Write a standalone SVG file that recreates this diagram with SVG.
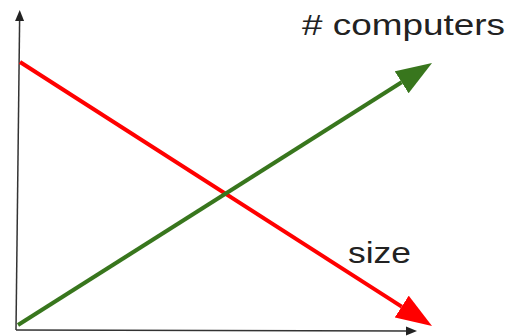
<svg xmlns="http://www.w3.org/2000/svg" width="510" height="336" viewBox="0 0 510 336">
<style>
.lbl{font-family:"Liberation Sans",Arial,sans-serif;fill:#222;}
.axis{stroke:#333;stroke-width:1.5;fill:none;}
</style>
<defs>
<marker id="axhead" markerUnits="userSpaceOnUse" viewBox="0 -5 11 10" refX="0" refY="0" markerWidth="11" markerHeight="10" orient="auto">
<path d="M0,-4.5 L11,0 L0,4.5 z" fill="#222"/>
</marker>
<marker id="ghead" markerUnits="userSpaceOnUse" viewBox="0 -13 36 26" refX="0" refY="0" markerWidth="36" markerHeight="26" orient="auto">
<path d="M0,-13 L36,0 L0,13 z" fill="#38761d"/>
</marker>
<marker id="rhead" markerUnits="userSpaceOnUse" viewBox="0 -13 36 26" refX="0" refY="0" markerWidth="36" markerHeight="26" orient="auto">
<path d="M0,-13 L36,0 L0,13 z" fill="#ff0000"/>
</marker>
</defs>
<rect width="510" height="336" fill="#fff"/>
<g id="connectors">
<line class="axis" x1="16" y1="330" x2="19.6" y2="21" marker-end="url(#axhead)"/>
<line class="axis" x1="16" y1="330" x2="406" y2="331" marker-end="url(#axhead)"/>
<line x1="20" y1="62" x2="401.7" y2="306.6" stroke="#ff0000" stroke-width="4" marker-end="url(#rhead)"/>
<line x1="18" y1="325" x2="401.6" y2="82.3" stroke="#38761d" stroke-width="4" marker-end="url(#ghead)"/>
</g>
<g id="label-computers">
<text class="lbl" x="302" y="35" font-size="30" textLength="203" lengthAdjust="spacingAndGlyphs"># computers</text>
</g>
<g id="label-size">
<text class="lbl" x="348" y="263" font-size="29" textLength="63" lengthAdjust="spacingAndGlyphs">size</text>
</g>
</svg>
